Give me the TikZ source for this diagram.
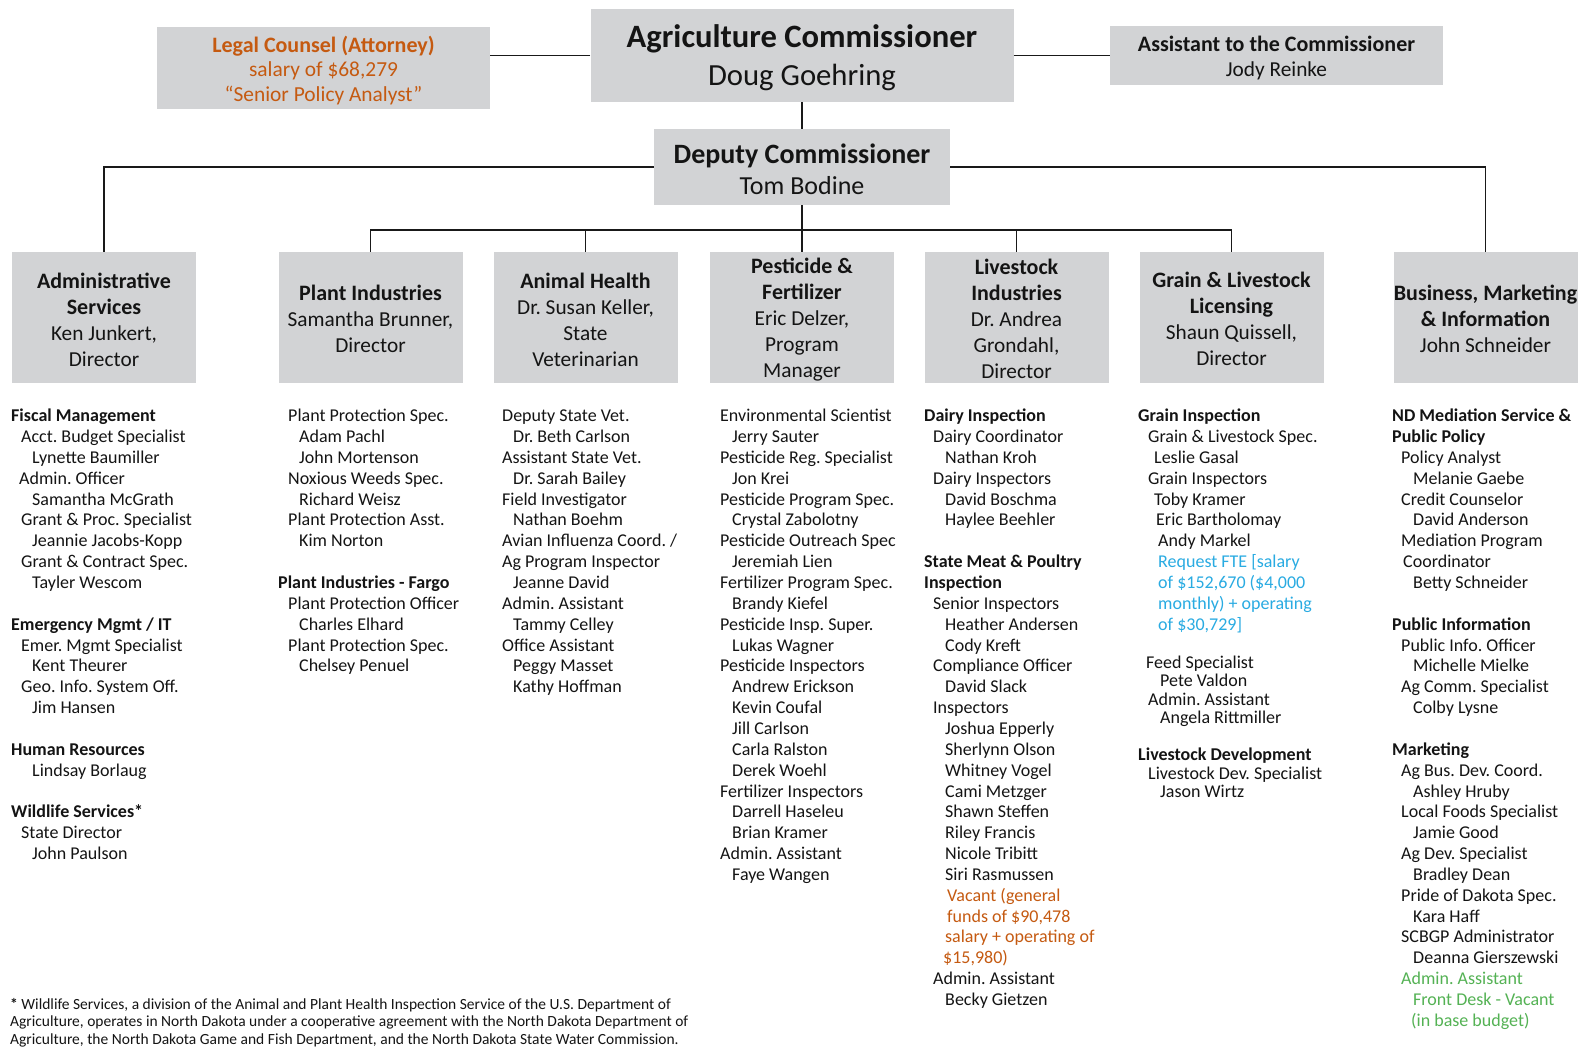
\documentclass[tikz,border=0pt]{standalone}
\usepackage{fontspec}
\setmainfont{Carlito}
\frenchspacing
\definecolor{boxgray}{RGB}{210,211,213}
\definecolor{orng}{RGB}{197,90,17}
\definecolor{blu}{RGB}{41,171,226}
\definecolor{grn}{RGB}{84,178,84}
\definecolor{txt}{RGB}{20,20,20}
\definecolor{linec}{RGB}{25,25,25}
\newcommand\ind[1]{\hspace*{#1pt}}
\newcommand\dtitle[1]{{\fontsize{22}{26}\selectfont\bfseries #1}}
\begin{document}
\begin{tikzpicture}[x=1pt,y=-1pt,
  box/.style={fill=boxgray, inner sep=0pt},
  boxtext/.style={inner sep=0pt, align=center, text=txt},
  dept/.style={box, minimum width=184pt, minimum height=131pt},
  depttext/.style={boxtext, font=\fontsize{21.3}{26}\selectfont},
  conn/.style={line width=1.8pt, draw=linec},
  listcol/.style={anchor=north west, inner sep=0pt, text=txt, font=\fontsize{18}{20.85}\selectfont},
  listcolb/.style={anchor=north west, inner sep=0pt, text=txt, font=\fontsize{18}{18.5}\selectfont},
  foot/.style={anchor=north west, inner sep=0pt, text=txt, font=\fontsize{15.5}{17.6}\selectfont\frenchspacing}]
\useasboundingbox[fill=white] (0,0) rectangle (1585,1047);

% top level
\node[box, minimum width=423pt, minimum height=93pt] (comm) at (802,55.5) {};
\node[boxtext, font=\fontsize{30.7}{37.4}\selectfont] (commt) at ([yshift=-2pt]comm.center)
  {{\fontsize{32.6}{37.4}\selectfont\bfseries Agriculture Commissioner}\\Doug Goehring};
\node[box, minimum width=333pt, minimum height=82pt] (legal) at (323.5,68) {};
\node[boxtext, text=orng, font=\fontsize{21.4}{24.8}\selectfont] (legalt) at ([yshift=-2.5pt]legal.center)
  {{\fontsize{22}{24.8}\selectfont\bfseries Legal Counsel (Attorney)}\\salary of \$68,279\\“Senior Policy Analyst”};
\node[box, minimum width=333pt, minimum height=59pt] (asst) at (1276.5,55.5) {};
\node[boxtext, font=\fontsize{21.3}{25}\selectfont] (asstt) at ([yshift=-2pt]asst.center)
  {{\fontsize{22}{25}\selectfont\bfseries Assistant to the Commissioner}\\Jody Reinke};
\node[box, minimum width=296pt, minimum height=76pt] (dep) at (802,167) {};
\node[boxtext, font=\fontsize{26}{31.3}\selectfont] (dept) at ([yshift=-2pt]dep.center)
  {{\fontsize{28}{31.3}\selectfont\bfseries Deputy Commissioner}\\Tom Bodine};

% departments
\node[dept] (adm) at (104,317.5) {};
\node[depttext] (admt) at ([yshift=-2pt]adm.center) {\dtitle{Administrative}\\\dtitle{Services}\\Ken Junkert,\\Director};
\node[dept] (plant) at (370.5,317.5) {};
\node[depttext] (plantt) at ([yshift=-1.5pt]plant.center) {\dtitle{Plant Industries}\\Samantha Brunner,\\Director};
\node[dept] (animal) at (585.5,317.5) {};
\node[depttext] (animalt) at ([yshift=-2pt]animal.center) {\dtitle{Animal Health}\\Dr. Susan Keller,\\State\\Veterinarian};
\node[dept] (pest) at (802,317.5) {};
\node[depttext] (pestt) at ([yshift=-2.5pt]pest.center) {\dtitle{Pesticide \&}\\\dtitle{Fertilizer}\\Eric Delzer,\\Program\\Manager};
\node[dept] (live) at (1016.5,317.5) {};
\node[depttext] (livet) at ([yshift=-1.5pt]live.center) {\dtitle{Livestock}\\\dtitle{Industries}\\Dr. Andrea\\Grondahl,\\Director};
\node[dept] (grain) at (1231.5,317.5) {};
\node[depttext] (graint) at ([yshift=-1.5pt]grain.center) {\dtitle{Grain \& Livestock}\\\dtitle{Licensing}\\Shaun Quissell,\\Director};
\node[dept] (bus) at (1485.5,317.5) {};
\node[depttext] (bust) at ([yshift=-1.5pt]bus.center) {\dtitle{Business, Marketing}\\\dtitle{\& Information}\\John Schneider};

% connectors
\coordinate (busy) at (802,230);
\draw[conn] (comm.west) -- (legal.east |- comm.west);
\draw[conn] (comm.east) -- (asst.west);
\draw[conn] (comm.south) -- (dep.north);
\draw[conn] (dep.west) -| (adm.north);
\draw[conn] (dep.east) -| (bus.north);
\draw[conn] (plant.north) |- (busy) -| (grain.north);
\draw[conn] (animal.north) -- (animal.north |- busy);
\draw[conn] (dep.south) -- (pest.north);
\draw[conn] (live.north) -- (live.north |- busy);

% lists
\node[listcol] (l1) at (11,406.9) {\begin{tabular}{@{}l@{}}
\textbf{Fiscal Management}\\
\ind{10}Acct. Budget Specialist\\
\ind{21}Lynette Baumiller\\
\ind{8}Admin. Officer\\
\ind{21}Samantha McGrath\\
\ind{10}Grant \& Proc. Specialist\\
\ind{21}Jeannie Jacobs-Kopp\\
\ind{10}Grant \& Contract Spec.\\
\ind{21}Tayler Wescom\\
\\
\textbf{Emergency Mgmt / IT}\\
\ind{10}Emer. Mgmt Specialist\\
\ind{21}Kent Theurer\\
\ind{10}Geo. Info. System Off.\\
\ind{21}Jim Hansen\\
\\
\textbf{Human Resources}\\
\ind{21}Lindsay Borlaug\\
\\
\textbf{Wildlife Services*}\\
\ind{10}State Director\\
\ind{21}John Paulson
\end{tabular}};

\node[listcol] (l2) at (278,406.9) {\begin{tabular}{@{}l@{}}
\ind{10}Plant Protection Spec.\\
\ind{21}Adam Pachl\\
\ind{21}John Mortenson\\
\ind{10}Noxious Weeds Spec.\\
\ind{21}Richard Weisz\\
\ind{10}Plant Protection Asst.\\
\ind{21}Kim Norton\\
\\
\textbf{Plant Industries - Fargo}\\
\ind{10}Plant Protection Officer\\
\ind{21}Charles Elhard\\
\ind{10}Plant Protection Spec.\\
\ind{21}Chelsey Penuel
\end{tabular}};

\node[listcol] (l3) at (502,406.9) {\begin{tabular}{@{}l@{}}
Deputy State Vet.\\
\ind{11}Dr. Beth Carlson\\
Assistant State Vet.\\
\ind{11}Dr. Sarah Bailey\\
Field Investigator\\
\ind{11}Nathan Boehm\\
Avian Influenza Coord. /\\
Ag Program Inspector\\
\ind{11}Jeanne David\\
Admin. Assistant\\
\ind{11}Tammy Celley\\
Office Assistant\\
\ind{11}Peggy Masset\\
\ind{11}Kathy Hoffman
\end{tabular}};

\node[listcol] (l4) at (720,406.9) {\begin{tabular}{@{}l@{}}
Environmental Scientist\\
\ind{12}Jerry Sauter\\
Pesticide Reg. Specialist\\
\ind{12}Jon Krei\\
Pesticide Program Spec.\\
\ind{12}Crystal Zabolotny\\
Pesticide Outreach Spec\\
\ind{12}Jeremiah Lien\\
Fertilizer Program Spec.\\
\ind{12}Brandy Kiefel\\
Pesticide Insp. Super.\\
\ind{12}Lukas Wagner\\
Pesticide Inspectors\\
\ind{12}Andrew Erickson\\
\ind{12}Kevin Coufal\\
\ind{12}Jill Carlson\\
\ind{12}Carla Ralston\\
\ind{12}Derek Woehl\\
Fertilizer Inspectors\\
\ind{12}Darrell Haseleu\\
\ind{12}Brian Kramer\\
Admin. Assistant\\
\ind{12}Faye Wangen
\end{tabular}};

\node[listcol] (l5) at (924,406.9) {\begin{tabular}{@{}l@{}}
\textbf{Dairy Inspection}\\
\ind{9}Dairy Coordinator\\
\ind{21}Nathan Kroh\\
\ind{9}Dairy Inspectors\\
\ind{21}David Boschma\\
\ind{21}Haylee Beehler\\
\\
\textbf{State Meat \& Poultry}\\
\textbf{Inspection}\\
\ind{9}Senior Inspectors\\
\ind{21}Heather Andersen\\
\ind{21}Cody Kreft\\
\ind{9}Compliance Officer\\
\ind{21}David Slack\\
\ind{9}Inspectors\\
\ind{21}Joshua Epperly\\
\ind{21}Sherlynn Olson\\
\ind{21}Whitney Vogel\\
\ind{21}Cami Metzger\\
\ind{21}Shawn Steffen\\
\ind{21}Riley Francis\\
\ind{21}Nicole Tribitt\\
\ind{21}Siri Rasmussen\\
\ind{23}\textcolor{orng}{Vacant (general}\\
\ind{23}\textcolor{orng}{funds of \$90,478}\\
\ind{21}\textcolor{orng}{salary + operating of}\\
\ind{19}\textcolor{orng}{\$15,980)}\\
\ind{9}Admin. Assistant\\
\ind{21}Becky Gietzen
\end{tabular}};

\node[listcol] (l6) at (1138,406.9) {\begin{tabular}{@{}l@{}}
\textbf{Grain Inspection}\\
\ind{10}Grain \& Livestock Spec.\\
\ind{16}Leslie Gasal\\
\ind{10}Grain Inspectors\\
\ind{16}Toby Kramer\\
\ind{18}Eric Bartholomay\\
\ind{20}Andy Markel\\
\ind{20}\textcolor{blu}{Request FTE [salary}\\
\ind{20}\textcolor{blu}{of \$152,670 (\$4,000}\\
\ind{20}\textcolor{blu}{monthly) + operating}\\
\ind{20}\textcolor{blu}{of \$30,729]}
\end{tabular}};

\node[listcolb] (l6b) at (1138,655.2) {\begin{tabular}{@{}l@{}}
\ind{8}Feed Specialist\\
\ind{22}Pete Valdon\\
\ind{10}Admin. Assistant\\
\ind{22}Angela Rittmiller\\
\\
\textbf{Livestock Development}\\
\ind{10}Livestock Dev. Specialist\\
\ind{22}Jason Wirtz
\end{tabular}};

\node[listcol] (l7) at (1392,406.9) {\begin{tabular}{@{}l@{}}
\textbf{ND Mediation Service \&}\\
\textbf{Public Policy}\\
\ind{9}Policy Analyst\\
\ind{21}Melanie Gaebe\\
\ind{9}Credit Counselor\\
\ind{21}David Anderson\\
\ind{9}Mediation Program\\
\ind{11}Coordinator\\
\ind{21}Betty Schneider\\
\\
\textbf{Public Information}\\
\ind{9}Public Info. Officer\\
\ind{21}Michelle Mielke\\
\ind{9}Ag Comm. Specialist\\
\ind{21}Colby Lysne\\
\\
\textbf{Marketing}\\
\ind{9}Ag Bus. Dev. Coord.\\
\ind{21}Ashley Hruby\\
\ind{9}Local Foods Specialist\\
\ind{21}Jamie Good\\
\ind{9}Ag Dev. Specialist\\
\ind{21}Bradley Dean\\
\ind{9}Pride of Dakota Spec.\\
\ind{21}Kara Haff\\
\ind{9}SCBGP Administrator\\
\ind{21}Deanna Gierszewski\\
\ind{9}\textcolor{grn}{Admin. Assistant}\\
\ind{21}\textcolor{grn}{Front Desk - Vacant}\\
\ind{19}\textcolor{grn}{(in base budget)}
\end{tabular}};

\node[foot] (fn) at (10,996.7) {\begin{tabular}{@{}l@{}}
\textbf{*} Wildlife Services, a division of the Animal and Plant Health Inspection Service of the U.S. Department of\\
Agriculture, operates in North Dakota under a cooperative agreement with the North Dakota Department of\\
Agriculture, the North Dakota Game and Fish Department, and the North Dakota State Water Commission.
\end{tabular}};
\end{tikzpicture}
\end{document}
